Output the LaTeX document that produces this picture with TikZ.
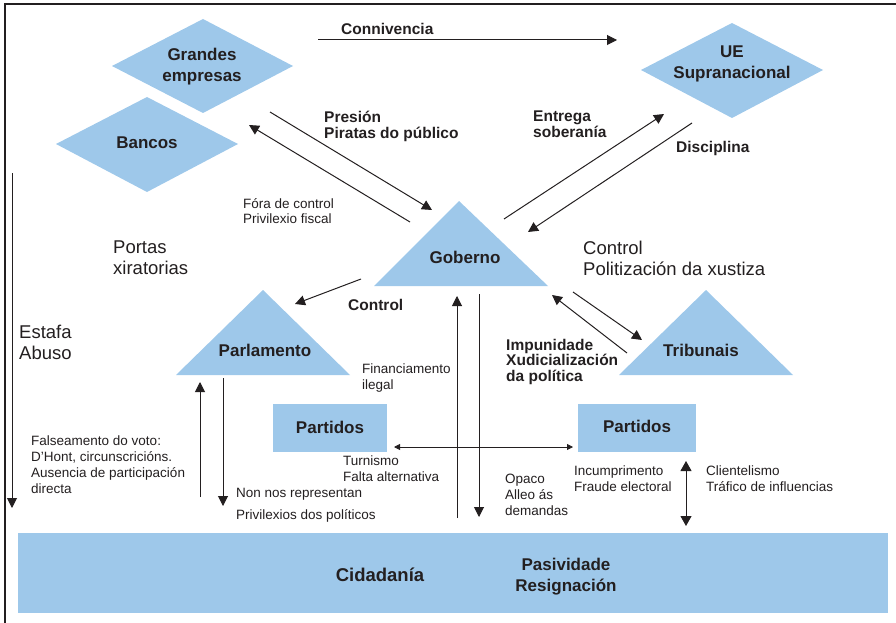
\documentclass[tikz,border=0pt]{standalone}
\usepackage{fontspec}
\setmainfont{Liberation Sans}
\usetikzlibrary{arrows.meta}
\definecolor{azul}{RGB}{158,200,234}
\definecolor{tinta}{RGB}{35,31,32}

\begin{document}
\begin{tikzpicture}[x=1pt,y=-1pt,
  forma/.style={fill=azul},
  nome/.style={font=\fontsize{17}{21}\selectfont\bfseries,text=tinta,align=center,inner sep=0pt},
  etiq/.style={font=\fontsize{15.5}{15.5}\selectfont\bfseries,text=tinta,align=left,inner sep=0pt},
  nota/.style={font=\fontsize{13.5}{15.8}\selectfont,text=tinta,align=left,inner sep=0pt},
  grande/.style={font=\fontsize{18.5}{21}\selectfont,text=tinta,align=left,inner sep=0pt},
  frecha/.style={-{Triangle[length=10pt,width=10pt]},line width=1pt,draw=tinta},
  dobre/.style={{Triangle[length=10pt,width=11pt]}-{Triangle[length=10pt,width=11pt]},line width=1pt,draw=tinta},
  fina/.style={{Triangle[length=6pt,width=6pt]}-{Triangle[length=6pt,width=6pt]},line width=0.8pt,draw=tinta}]
\useasboundingbox (0,0) rectangle (896,623);
\draw[line width=1.3pt,tinta] (896,4) -- (5,4) -- (5,623);

\fill[forma] (112,66) -- (203,19) -- (293,66) -- (203,113) -- cycle;
\fill[forma] (56,144) -- (147,97) -- (238,144) -- (147,192) -- cycle;
\fill[forma] (641,70) -- (732,23) -- (823,70) -- (732,118) -- cycle;
\fill[forma] (374,286) -- (459,201) -- (548,286) -- cycle;
\fill[forma] (176,375) -- (263,290) -- (350,375) -- cycle;
\fill[forma] (619,375) -- (706,290) -- (793,375) -- cycle;
\fill[forma] (273,404) rectangle (387,452);
\fill[forma] (578,404) rectangle (696,452);
\fill[forma] (18,533) rectangle (888,613);

\node[nome,anchor=north] (grandes) at (202,47.5) {Grandes\\empresas};
\node[nome,anchor=base] (bancos) at (147,148) {Bancos};
\node[nome,anchor=north] (ue) at (732,45.5) {UE\\Supranacional};
\node[nome,anchor=base] (goberno) at (465,263) {Goberno};
\node[nome,anchor=base] (parlamento) at (265,356) {Parlamento};
\node[nome,anchor=base] (tribunais) at (701,356) {Tribunais};
\node[nome,anchor=base] (partidosA) at (330,433) {Partidos};
\node[nome,anchor=base] (partidosB) at (637,432) {Partidos};
\node[nome,anchor=base,font=\fontsize{18.5}{21}\selectfont\bfseries] (cidadania) at (380,581) {Cidadanía};
\node[nome,anchor=north] (pasividade) at (566,558) {Pasividade\\Resignación};

\node[etiq,anchor=base west] (connivencia) at (341,34.3) {Connivencia};
\node[etiq,anchor=north west] (presion) at (324,111) {Presión\\Piratas do público};
\node[nota,anchor=north west] (fora) at (243,198) {Fóra de control\\Privilexio fiscal};
\node[grande,anchor=north west] (portas) at (113,241) {Portas\\xiratorias};
\node[etiq,anchor=north west] (entrega) at (533,111) {Entrega\\soberanía};
\node[etiq,anchor=base west] (disciplina) at (676,152) {Disciplina};
\node[grande,anchor=north west] (politizacion) at (583,241) {Control\\Politización da xustiza};
\node[etiq,anchor=base west] (control) at (348,310) {Control};
\node[etiq,anchor=north west] (impunidade) at (506,339) {Impunidade\\Xudicialización\\da política};
\node[nota,anchor=north west] (financiamento) at (362,364) {Financiamento\\ilegal};
\node[grande,anchor=north west] (estafa) at (19,325) {Estafa\\Abuso};
\node[nota,anchor=north west] (falseamento) at (31,436) {Falseamento do voto:\\D’Hont, circunscricións.\\Ausencia de participación\\directa};
\node[nota,anchor=base west] (nonnos) at (236,497) {Non nos representan};
\node[nota,anchor=base west] (privilexios) at (236,519) {Privilexios dos políticos};
\node[nota,anchor=north west] (turnismo) at (343,456) {Turnismo\\Falta alternativa};
\node[nota,anchor=north west] (opaco) at (505,474) {Opaco\\Alleo ás\\demandas};
\node[nota,anchor=north west] (incumprimento) at (574,466) {Incumprimento\\Fraude electoral};
\node[nota,anchor=north west] (clientelismo) at (706,466) {Clientelismo\\Tráfico de influencias};

\coordinate (c1) at (318,40);  \coordinate (c2) at (617,40);
\coordinate (p1) at (270,112); \coordinate (p2) at (432,210);
\coordinate (f1) at (410,222); \coordinate (f2) at (249,125);
\coordinate (e1) at (504,219); \coordinate (e2) at (664,114);
\coordinate (d1) at (692,123); \coordinate (d2) at (528,232);
\coordinate (g1) at (361,279); \coordinate (g2) at (295,304);
\coordinate (s1) at (457,518); \coordinate (s2) at (457,296);
\coordinate (b1) at (479,294); \coordinate (b2) at (479,517);
\coordinate (t1) at (573,292); \coordinate (t2) at (642,340);
\coordinate (u1) at (627,353); \coordinate (u2) at (552,295);
\coordinate (h1) at (394,447); \coordinate (h2) at (573,447);
\coordinate (v1) at (686,461); \coordinate (v2) at (686,526);
\coordinate (r1) at (200,497); \coordinate (r2) at (200,382);
\coordinate (n1) at (223,378); \coordinate (n2) at (223,506);
\coordinate (a1) at (12,173);  \coordinate (a2) at (12,508);

\draw[frecha] (c1) -- (c2);
\draw[frecha] (p1) -- (p2);
\draw[frecha] (f1) -- (f2);
\draw[frecha] (e1) -- (e2);
\draw[frecha] (d1) -- (d2);
\draw[frecha] (g1) -- (g2);
\draw[frecha] (s1) -- (s2);
\draw[frecha] (b1) -- (b2);
\draw[frecha] (t1) -- (t2);
\draw[frecha] (u1) -- (u2);
\draw[fina] (h1) -- (h2);
\draw[dobre] (v1) -- (v2);
\draw[frecha] (r1) -- (r2);
\draw[frecha] (n1) -- (n2);
\draw[frecha] (a1) -- (a2);
\end{tikzpicture}
\end{document}
